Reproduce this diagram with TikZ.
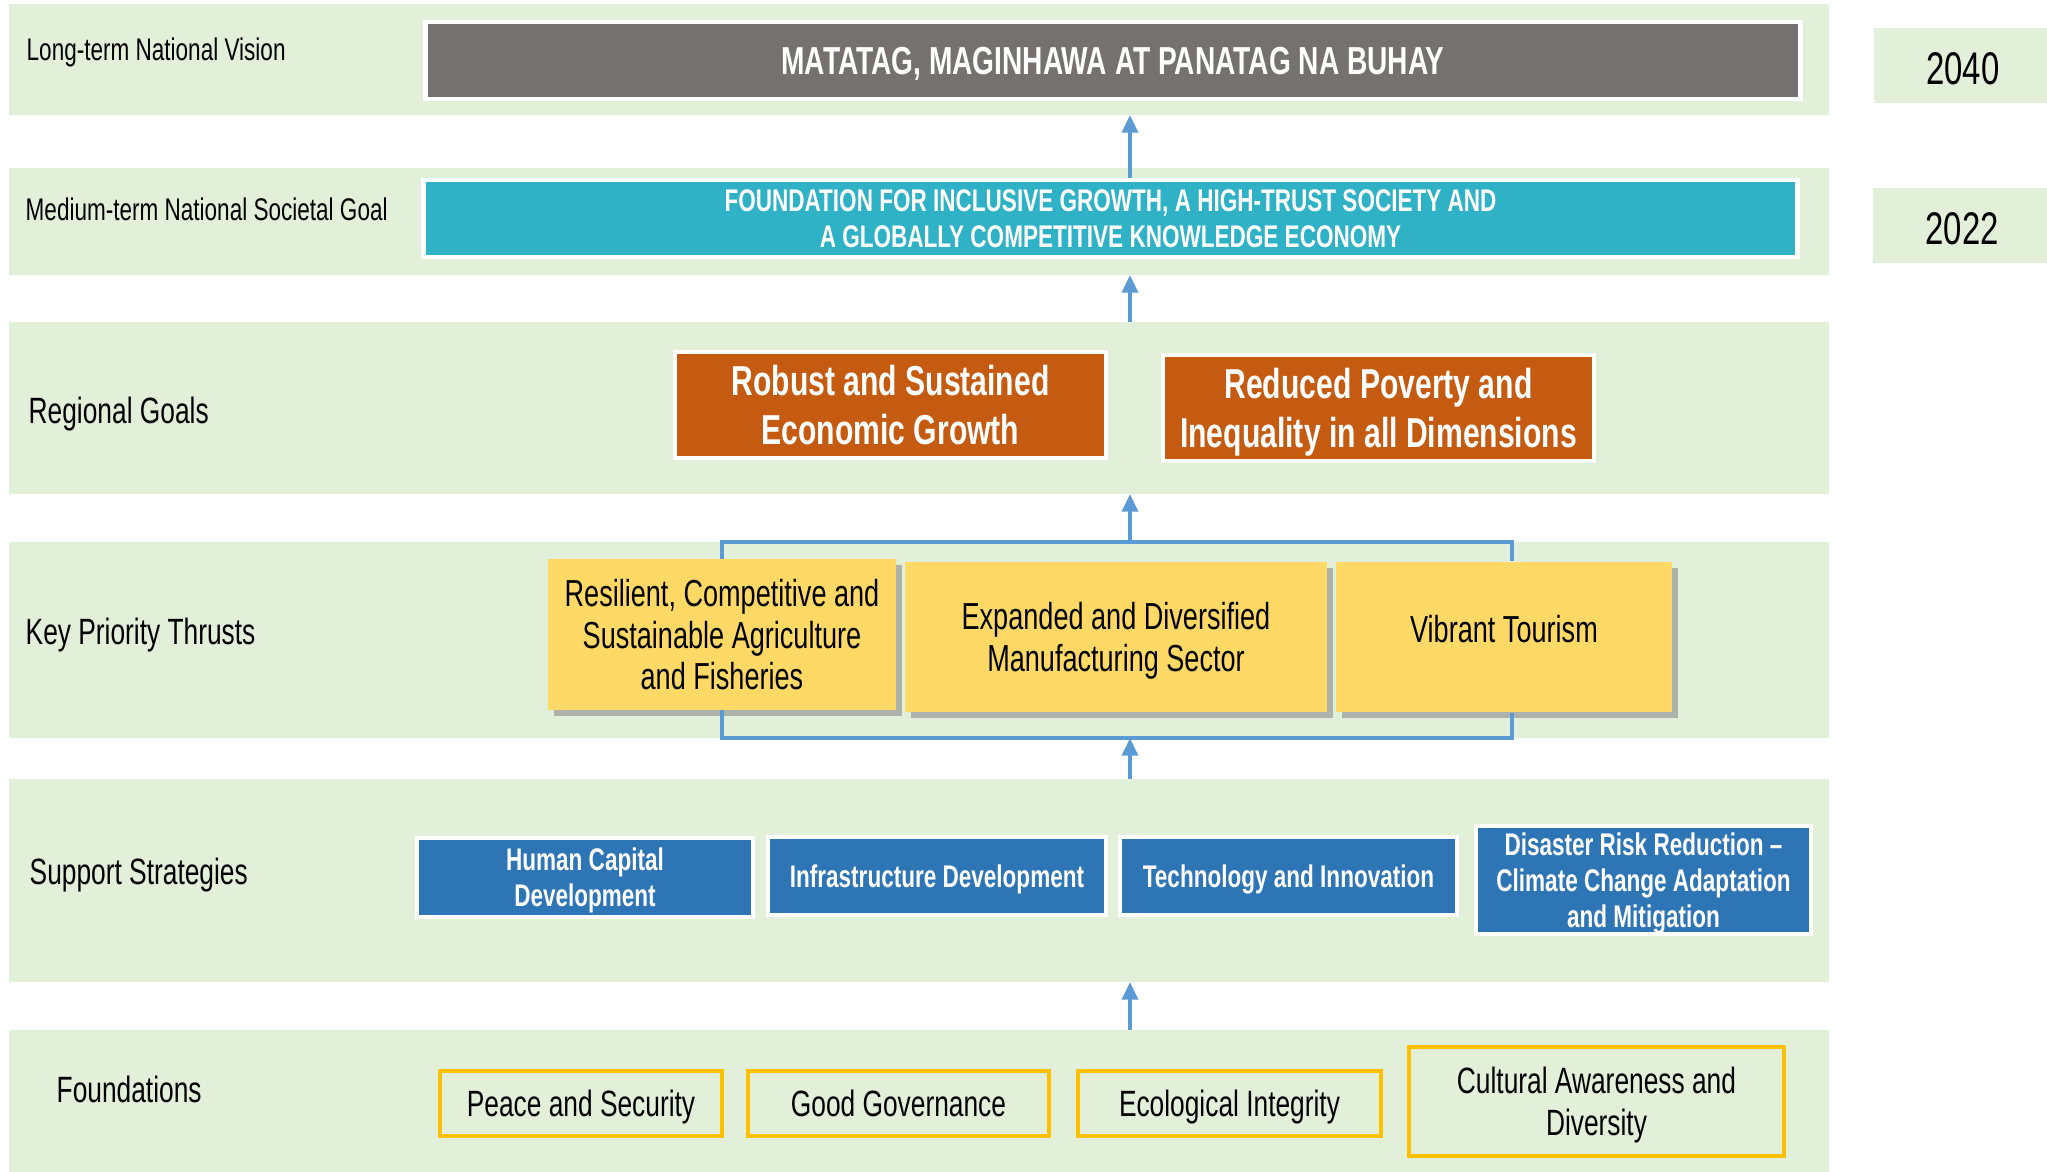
\documentclass[tikz,border=0pt]{standalone}
\usepackage{fontspec}
\setmainfont{Liberation Sans}[FakeStretch=0.72]
\usetikzlibrary{arrows.meta,shadows}
\definecolor{bandgreen}{HTML}{E2EFD9}
\definecolor{visiongray}{HTML}{767171}
\definecolor{goalteal}{HTML}{2FB1C6}
\definecolor{rgorange}{HTML}{C55A11}
\definecolor{kptyellow}{HTML}{FFD966}
\definecolor{ssblue}{HTML}{2E75B6}
\definecolor{arrowblue}{HTML}{5B9BD5}
\definecolor{fdgold}{HTML}{FFC000}
\begin{document}
\begin{tikzpicture}[x=0.01cm,y=-0.01cm]
\tikzset{band/.style={fill=bandgreen, inner sep=0pt, outer sep=0pt, minimum width=18.18cm}}
\tikzset{bandlabel/.style={anchor=west, inner sep=0pt, font=\fontsize{10.4}{12}\selectfont}}
\tikzset{smalllabel/.style={bandlabel, font=\fontsize{8.9}{10}\selectfont}}
\tikzset{yearbox/.style={fill=bandgreen, inner sep=0pt, minimum width=1.78cm, minimum height=0.75cm, text height=10.8pt, font=\fontsize{13}{15}\selectfont}}
\tikzset{visionbox/.style={fill=visiongray, draw=white, line width=1.2pt, text=white, inner sep=0pt, text depth=0pt, font=\bfseries\fontsize{11.1}{13}\selectfont}}
\tikzset{goalbox/.style={visionbox, fill=goalteal, align=center, font=\bfseries\fontsize{8.9}{10.2}\selectfont}}
\tikzset{rgbox/.style={fill=rgorange, draw=white, line width=1pt, text=white, inner sep=0pt, text depth=0pt, align=center, minimum width=4.31cm, minimum height=1.06cm, font=\bfseries\fontsize{11.9}{14}\selectfont}}
\tikzset{kptbox/.style={fill=kptyellow, inner sep=0pt, text depth=0pt, align=center, minimum height=1.5cm, drop shadow={shadow xshift=0.06cm, shadow yshift=-0.06cm, fill=black!45, opacity=0.6}, font=\fontsize{10.7}{11.9}\selectfont}}
\tikzset{ssbox/.style={fill=ssblue, draw=white, line width=1pt, text=white, inner sep=0pt, text depth=0pt, align=center, font=\bfseries\fontsize{8.9}{10.2}\selectfont}}
\tikzset{fdbox/.style={fill=bandgreen, draw=fdgold, line width=1pt, inner sep=0pt, text depth=0pt, align=center, font=\fontsize{10.4}{11.9}\selectfont}}
\tikzset{uparrow/.style={draw=arrowblue, line width=1.1pt, -{Triangle[width=4.5pt,length=5pt]}}}
\tikzset{bracket/.style={draw=arrowblue, line width=1.1pt}}
\useasboundingbox (0,0) rectangle (2047,1172);
\node[band, minimum height=1.11cm] (band1) at (919,59.5) {};
\node[band, minimum height=1.07cm] (band2) at (919,221.5) {};
\node[band, minimum height=1.72cm] (band3) at (919,408) {};
\node[band, minimum height=1.96cm] (band4) at (919,640) {};
\node[band, minimum height=2.03cm] (band5) at (919,880.5) {};
\node[band, minimum height=1.42cm] (band6) at (919,1101) {};
\node[smalllabel] (lbl1) at (26,52.6) {Long-term National Vision};
\node[smalllabel] (lbl2) at (25,209) {Medium-term National Societal Goal};
\node[bandlabel] (lbl3) at (28,414) {Regional Goals};
\node[bandlabel] (lbl4) at (25,634.6) {Key Priority Thrusts};
\node[bandlabel] (lbl5) at (29,874.6) {Support Strategies};
\node[bandlabel] (lbl6) at (56,1089.7) {Foundations};
\node[yearbox] (year1) at (1963,65.5) {2040};
\node[yearbox] (year2) at (1962,225.5) {2022};
\node[visionbox, minimum width=13.74cm, minimum height=0.77cm] (vision) at (1113,60.5) {MATATAG, MAGINHAWA AT PANATAG NA BUHAY};
\node[goalbox, minimum width=13.73cm, minimum height=0.77cm] (goal) at (1110.5,218.5) {FOUNDATION FOR INCLUSIVE GROWTH, A HIGH-TRUST SOCIETY AND\\A GLOBALLY COMPETITIVE KNOWLEDGE ECONOMY};
\node[rgbox] (rg1) at (890.5,405) {Robust and Sustained\\Economic Growth};
\node[rgbox] (rg2) at (1378.5,408) {Reduced Poverty and\\Inequality in all Dimensions};
\node[kptbox, minimum width=3.48cm] (kpt1) at (722,634.5) {Resilient, Competitive and\\Sustainable Agriculture\\and Fisheries};
\node[kptbox, minimum width=4.22cm] (kpt2) at (1116,637) {Expanded and Diversified\\Manufacturing Sector};
\node[kptbox, minimum width=3.36cm, text depth=4.4pt] (kpt3) at (1504,637) {Vibrant Tourism};
\node[ssbox, minimum width=3.36cm, minimum height=0.79cm] (ss1) at (585,877.5) {Human Capital\\Development};
\node[ssbox, minimum width=3.38cm, minimum height=0.78cm] (ss2) at (937,876) {Infrastructure Development};
\node[ssbox, minimum width=3.37cm, minimum height=0.78cm] (ss3) at (1288.5,876) {Technology and Innovation};
\node[ssbox, minimum width=3.35cm, minimum height=1.08cm] (ss4) at (1643.5,880) {Disaster Risk Reduction --\\Climate Change Adaptation\\and Mitigation};
\node[fdbox, minimum width=2.82cm, minimum height=0.65cm] (fd1) at (581,1103.5) {Peace and Security};
\node[fdbox, minimum width=3.01cm, minimum height=0.65cm] (fd2) at (898.5,1103.5) {Good Governance};
\node[fdbox, minimum width=3.03cm, minimum height=0.65cm] (fd3) at (1229.5,1103.5) {Ecological Integrity};
\node[fdbox, minimum width=3.75cm, minimum height=1.09cm] (fd4) at (1596.5,1101.5) {Cultural Awareness and\\Diversity};
\coordinate (ax) at (1130,0);
\draw[bracket] (kpt1.north) |- (band4.north) -| ([xshift=0.08cm]kpt3.north);
\draw[bracket] (kpt1.south) |- (band4.south) -| ([xshift=0.08cm]kpt3.south);
\draw[uparrow] (goal.north -| ax) -- (band1.south -| ax);
\draw[uparrow] (band3.north -| ax) -- (band2.south -| ax);
\draw[uparrow] (band4.north -| ax) -- (band3.south -| ax);
\draw[uparrow] (band5.north -| ax) -- (band4.south -| ax);
\draw[uparrow] (band6.north -| ax) -- (band5.south -| ax);
\end{tikzpicture}
\end{document}
